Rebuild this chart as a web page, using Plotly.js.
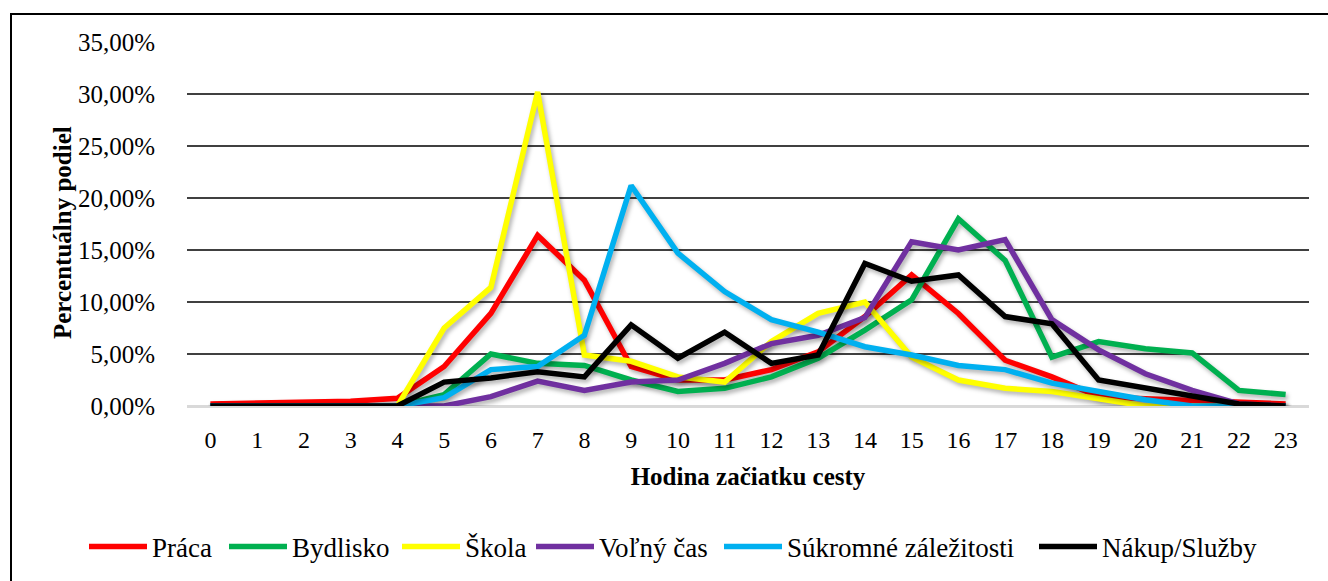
<!DOCTYPE html>
<html>
<head>
<meta charset="utf-8">
<script src="https://cdn.plot.ly/plotly-3.0.1.min.js"></script>
<style>
html,body{margin:0;padding:0;background:#fff;}
#chart{width:1328px;height:581px;}
#chart .scatterlayer .trace path.js-line{filter: drop-shadow(2px 3px 2px rgba(0,0,0,0.3));}
</style>
</head>
<body>
<div id="chart"></div>
<script>
const hours = [0,1,2,3,4,5,6,7,8,9,10,11,12,13,14,15,16,17,18,19,20,21,22,23];
const hourLabels = ["0","1","2","3","4","5","6","7","8","9","10","11","12","13","14","15","16","17","18","19","20","21","22","23"];
const seriesNames = ["Práca","Bydlisko","Škola","Voľný čas","Súkromné záležitosti","Nákup/Služby"];
const praca     = [0.2,0.25,0.3,0.45,0.75,3.8,8.9,16.4,12.1,3.8,2.5,2.5,3.5,5.2,8.6,12.6,8.9,4.4,2.8,0.9,0.7,0.5,0.3,0.2];
const bydlisko  = [0,0,0,0,0,1.1,5.0,4.1,3.9,2.5,1.4,1.7,2.8,4.6,7.3,10.2,18.0,14.0,4.7,6.2,5.5,5.1,1.5,1.1];
const skola     = [0,0,0,0,0,7.5,11.4,30.2,4.9,4.3,2.8,2.3,6.2,8.9,10.0,4.7,2.5,1.7,1.4,0.7,0,0,0,0];
const volnyCas  = [0,0,0,0,0,0,0.9,2.4,1.5,2.3,2.5,4.1,6.0,6.8,8.5,15.8,15.0,16.0,8.3,5.4,3.1,1.5,0.2,0];
const sukromne  = [0,0,0,0,0,0.8,3.5,3.8,6.8,21.2,14.7,11.0,8.3,7.1,5.7,4.9,3.9,3.5,2.2,1.4,0.6,0,0,0];
const nakup     = [0,0,0,0,0,2.3,2.7,3.3,2.8,7.8,4.6,7.1,4.1,4.9,13.7,12.0,12.6,8.6,7.9,2.5,1.7,0.9,0.2,0];
const yTicks = [0,5,10,15,20,25,30,35];
const yTickLabels = ["0,00%","5,00%","10,00%","15,00%","20,00%","25,00%","30,00%","35,00%"];
const xTitle = "Hodina začiatku cesty";
const yTitle = "Percentuálny podiel";

const colors = ["#FF0000","#00B050","#FFFF00","#7030A0","#00B0F0","#000000"];
const values = [praca,bydlisko,skola,volnyCas,sukromne,nakup];
// left pixel of each legend entry
const legendLeft = [90,230,403,537,725,1040];

const legendIds = ['legend','legend2','legend3','legend4','legend5','legend6'];

const traces = values.map((v,i)=>({
  x: hours, y: v, name: seriesNames[i], type: 'scatter', mode: 'lines',
  line: {color: colors[i], width: 5.5},
  legend: legendIds[i],
  hoverinfo: 'skip'
}));

const serif = "Liberation Serif";

const layout = {
  width: 1328, height: 581,
  margin: {l:187, r:19, t:42, b:175},
  paper_bgcolor: '#fff', plot_bgcolor: '#fff',
  font: {family: serif, size: 24, color: '#000'},
  showlegend: true,
  xaxis: {
    range: [-0.5, 23.5], tickmode: 'array', tickvals: hours, ticktext: hourLabels,
    showgrid: false, zeroline: false, showline: false,
    ticks: 'outside', ticklen: 12, tickcolor: 'rgba(0,0,0,0)',
    tickfont: {family: serif, size: 24, color: '#000'},
    title: {text: '<b>' + xTitle + '</b>', font: {family: serif, size: 25, color: '#000'}, standoff: 15}
  },
  yaxis: {
    range: [0, 35], tickmode: 'array', tickvals: yTicks, ticktext: yTickLabels,
    showgrid: true, gridcolor: '#404040', gridwidth: 1.5,
    zeroline: true, zerolinecolor: '#d9d9d9', zerolinewidth: 3,
    showline: false,
    ticks: 'outside', ticklen: 26, tickcolor: 'rgba(0,0,0,0)',
    tickfont: {family: serif, size: 25, color: '#000'}
  },
  annotations: [{
    text: '<b>' + yTitle + '</b>', textangle: -90, showarrow: false,
    xref: 'paper', yref: 'paper', x: (62-187)/1122, y: (406-233)/364,
    xanchor: 'center', yanchor: 'middle',
    font: {family: serif, size: 25, color: '#000'}
  }],
  shapes: [{
    type: 'rect', xref: 'paper', yref: 'paper',
    x0: (11-187)/1122, x1: 1.3, y0: -0.7, y1: (406-14)/364,
    line: {color: '#000', width: 2}, fillcolor: 'rgba(0,0,0,0)', layer: 'below'
  }]
};

legendIds.forEach((id,i)=>{
  layout[id] = {
    orientation: 'h', xref: 'container', yref: 'container',
    x: (legendLeft[i]-6)/1328, xanchor: 'left', y: (581-547)/581, yanchor: 'middle',
    font: {family: serif, size: 27, color: '#000'},
    itemwidth: 58, bgcolor: 'rgba(0,0,0,0)', borderwidth: 0
  };
});

Plotly.newPlot('chart', traces, layout, {displayModeBar: false, staticPlot: true});
</script>
</body>
</html>
